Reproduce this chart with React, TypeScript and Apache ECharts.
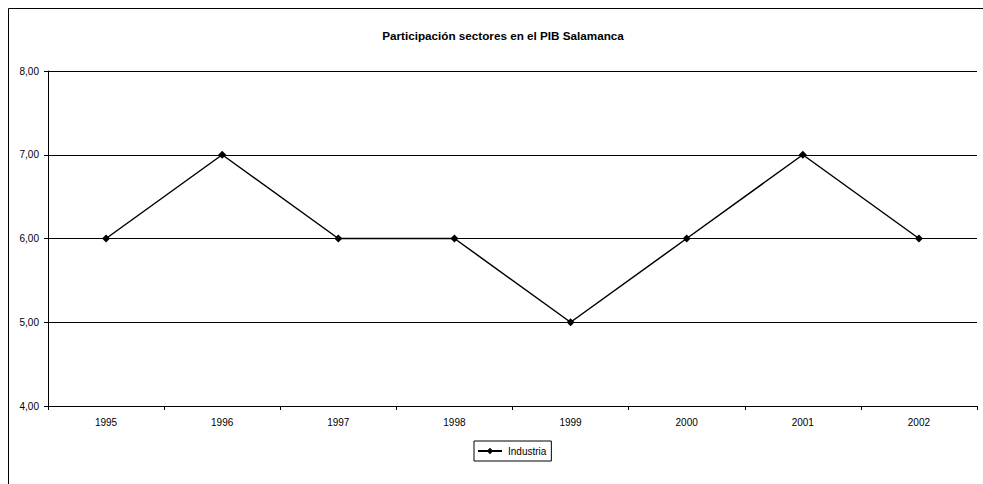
import React, { useEffect, useRef } from "react";
import * as echarts from "echarts";

const categories = ["1995", "1996", "1997", "1998", "1999", "2000", "2001", "2002"];
const industria = [6, 7, 6, 6, 5, 6, 7, 6];
const titleText = "Participación sectores en el PIB Salamanca";
const seriesName = "Industria";

export default function App() {
  const ref = useRef<HTMLDivElement>(null);
  useEffect(() => {
    if (!ref.current) return;
    const chart = echarts.init(ref.current, null, { renderer: "svg" });
    const font = "Liberation Sans, Arial, sans-serif";
    chart.setOption({
      animation: false,
      backgroundColor: "#ffffff",
      textStyle: { fontFamily: font },
      title: {
        text: titleText,
        left: 498,
        top: 24,
        textAlign: "center",
        textStyle: { fontSize: 11.7, fontWeight: "bold", color: "#000", fontFamily: font },
      },
      graphic: [
        {
          type: "rect",
          shape: { x: 8.5, y: 8.5, width: 1200, height: 1200 },
          style: { fill: "none", stroke: "#000", lineWidth: 1 },
          silent: true,
        },
      ],
      legend: {
        data: [seriesName],
        left: 474,
        top: 441,
        borderColor: "#000",
        borderWidth: 1,
        padding: [5, 5, 5, 3],
        itemWidth: 24,
        itemHeight: 8,
        itemGap: 4,
        textStyle: { fontSize: 10, color: "#000", fontFamily: font, padding: [0, 0, 0, 1] },
      },
      grid: { left: 48, right: 6, top: 71, bottom: 78, containLabel: false },
      xAxis: {
        type: "category",
        data: categories,
        boundaryGap: true,
        axisLine: { lineStyle: { color: "#000", width: 1 } },
        axisTick: { show: true, length: 4, lineStyle: { color: "#000" }, alignWithLabel: false },
        axisLabel: { fontSize: 10, color: "#000", margin: 11, fontFamily: font },
      },
      yAxis: {
        type: "value",
        min: 4,
        max: 8,
        interval: 1,
        axisLine: { show: true, lineStyle: { color: "#000", width: 1 } },
        axisTick: { show: true, length: 4, lineStyle: { color: "#000" } },
        axisLabel: {
          fontSize: 10,
          color: "#000",
          margin: 9,
          fontFamily: font,
          formatter: (v: number) => v.toFixed(2).replace(".", ","),
        },
        splitLine: { show: true, lineStyle: { color: "#000", width: 1 } },
      },
      series: [
        {
          name: seriesName,
          type: "line",
          data: industria,
          symbol: "diamond",
          symbolSize: 8,
          itemStyle: { color: "#000" },
          lineStyle: { color: "#000", width: 1.5 },
        },
      ],
    });
    return () => chart.dispose();
  }, []);
  return (
    <div
      ref={ref}
      style={{ position: "fixed", left: 0, top: 0, width: 983, height: 484 }}
    />
  );
}
